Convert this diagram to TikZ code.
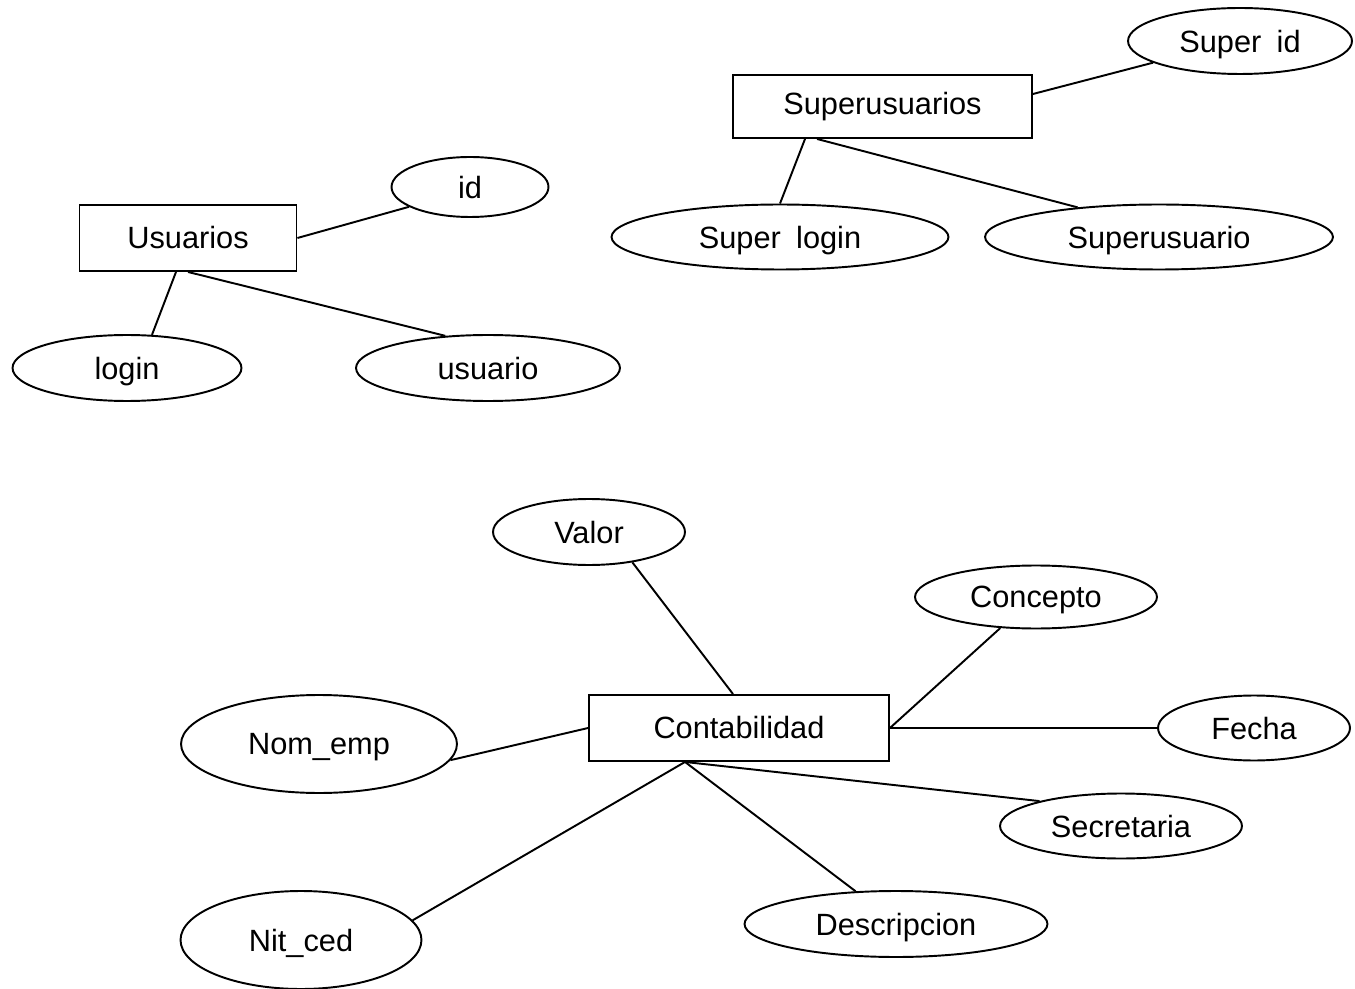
\documentclass[tikz,border=0pt]{standalone}
\usepackage{fontspec}
\setmainfont{Liberation Sans}
\usepackage{tikz}
\usetikzlibrary{shapes.geometric}

\begin{document}
\begin{tikzpicture}[x=0.02cm, y=-0.02cm, line width=1.1pt,
                    every node/.style={font=\fontsize{17.5}{21}\selectfont},
                    entidad/.style={rectangle, draw, inner sep=0pt},
                    atributo/.style={ellipse, draw, inner sep=0pt, text depth=0pt}]
                            \useasboundingbox (0, 0) rectangle (1355, 989);

                            \node (usuarios) at (188, 238) [entidad, minimum width=4.34cm, minimum height=1.32cm] {Usuarios};
                            \node (id) at (470, 187) [atributo, minimum width=3.14cm, minimum height=1.2cm] {id};
                            \node (login) at (127, 368) [atributo, minimum width=4.58cm, minimum height=1.32cm] {login};
                            \node (usuario) at (488, 368) [atributo, minimum width=5.28cm, minimum height=1.32cm] {usuario};

                            \node (superusuarios) at (882.5, 106.5) [entidad, minimum width=5.98cm, minimum height=1.26cm] {Superusuarios};
                            \node (superid) at (1240, 41) [atributo, minimum width=4.48cm, minimum height=1.32cm] {Super\enspace id};
                            \node (superlogin) at (780, 237) [atributo, minimum width=6.74cm, minimum height=1.3cm] {Super\enspace login};
                            \node (superusuario) at (1159, 237) [atributo, minimum width=6.96cm, minimum height=1.3cm] {Superusuario};

                            \node (contabilidad) at (739, 728) [entidad, minimum width=6cm, minimum height=1.32cm] {Contabilidad};
                            \node (valor) at (589, 532) [atributo, minimum width=3.84cm, minimum height=1.32cm] {Valor};
                            \node (nomemp) at (319, 744) [atributo, minimum width=5.52cm, minimum height=1.96cm] {Nom\_emp};
                            \node (nitced) at (301, 940) [atributo, minimum width=4.82cm, minimum height=1.96cm] {Nit\_ced};
                            \node (concepto) at (1036, 597) [atributo, minimum width=4.84cm, minimum height=1.26cm] {Concepto};
                            \node (fecha) at (1254, 728) [atributo, minimum width=3.84cm, minimum height=1.3cm] {Fecha};
                            \node (secretaria) at (1121, 826) [atributo, minimum width=4.84cm, minimum height=1.3cm] {Secretaria};
                            \node (descripcion) at (896, 924) [atributo, minimum width=6.06cm, minimum height=1.32cm] {Descripcion};

                            \draw (usuarios.east) to (id.198);
                            \draw ([xshift=-0.24cm]usuarios.south) to (login.53);
                            \draw (usuarios.south) to (usuario.143);

                            \draw ([yshift=0.25cm]superusuarios.east) to (superid.194);
                            \draw ([xshift=-1.55cm]superusuarios.south) to (superlogin.north);
                            \draw ([xshift=-1.31cm]superusuarios.south) to (superusuario.160);

                            \draw ([xshift=-0.12cm]contabilidad.north) to (valor.-35);
                            \draw (contabilidad.west) to (nomemp.-7);
                            \draw ([xshift=-1.08cm]contabilidad.south) to (nitced.10);
                            \draw ([xshift=-1.08cm]contabilidad.south) to (descripcion.141);
                            \draw ([xshift=-1.08cm]contabilidad.south) to (secretaria.163);
                            \draw (contabilidad.east) to (concepto.221);
                            \draw (contabilidad.east) to (fecha.west);
                        \end{tikzpicture}
\end{document}
